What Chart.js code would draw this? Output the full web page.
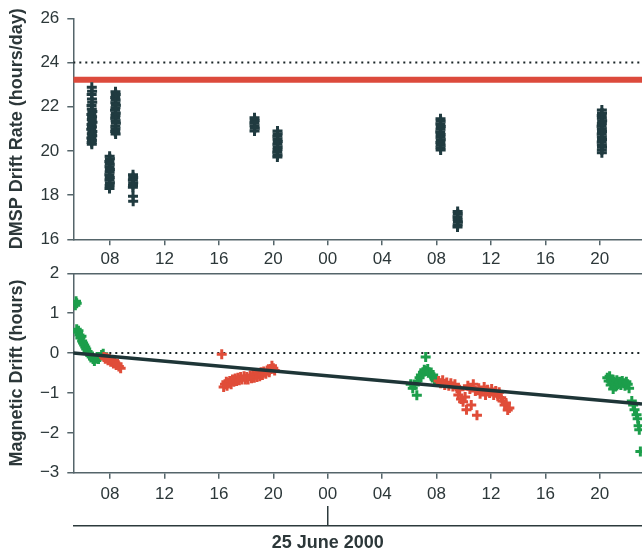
<!DOCTYPE html>
<html><head><meta charset="utf-8">
<script src="https://cdn.jsdelivr.net/npm/chart.js@4/dist/chart.umd.min.js"></script>
<style>
html,body{margin:0;padding:0;background:#fff;}
#wrap{position:relative;width:642px;height:552px;overflow:hidden;}
#wrap canvas{position:absolute;left:0;top:0;}
</style></head><body>
<div id="wrap"><canvas id="topChart" width="642" height="552"></canvas><canvas id="botChart" width="642" height="552"></canvas></div>
<script>
// ---- data (hours since 24 June 2000 00:00) ----
const timeRange = [5.3, 47.1];
const hourTicks = [8, 12, 16, 20, 24, 28, 32, 36, 40, 44];
const rateTicks = [16, 18, 20, 22, 24, 26];
const driftTicks = [-3, -2, -1, 0, 1, 2];
const solarDayRate = 24;
const siderealRate = 23.22;
const driftZero = 0;
const dateTickHour = 24;
const dateLabel = '25 June 2000';
const rateTitle = 'DMSP Drift Rate (hours/day)';
const driftTitle = 'Magnetic Drift (hours)';

const dmspDriftRate = [
  [6.66,22.88],[6.68,22.7],[6.65,22.55],[6.67,22.35],[6.69,22.2],[6.64,22.05],[6.66,21.9],[6.7,21.78],[6.63,21.65],[6.68,21.55],[6.66,21.42],[6.71,21.3],[6.64,21.2],[6.67,21.08],[6.62,20.98],[6.7,20.88],[6.66,20.78],[6.69,20.68],[6.63,20.58],[6.67,20.48],[6.65,20.38],[6.66,20.3],
  [8.4,22.68],[8.42,22.55],[8.38,22.42],[8.41,22.3],[8.39,22.18],[8.43,22.06],[8.4,21.95],[8.37,21.84],[8.42,21.72],[8.4,21.6],[8.38,21.48],[8.41,21.36],[8.43,21.25],[8.39,21.12],[8.4,21.0],[8.38,20.88],[8.41,20.76],
  [7.97,19.76],[7.99,19.64],[7.95,19.52],[7.98,19.4],[7.96,19.28],[7.99,19.16],[7.97,19.04],[7.95,18.92],[7.98,18.8],[7.96,18.68],[7.99,18.56],[7.97,18.44],[7.96,18.3],
  [9.69,18.92],[9.7,18.8],[9.68,18.68],[9.7,18.56],[9.69,18.44],[9.68,18.36],[9.69,17.95],[9.7,17.72],
  [18.62,21.5],[18.63,21.38],[18.61,21.26],[18.62,21.14],[18.64,21.02],[18.62,20.9],
  [20.31,20.9],[20.32,20.78],[20.3,20.66],[20.31,20.54],[20.33,20.42],[20.3,20.3],[20.32,20.18],[20.31,20.06],[20.29,19.94],[20.31,19.82],[20.3,19.72],
  [32.29,21.46],[32.3,21.34],[32.28,21.22],[32.31,21.1],[32.29,20.98],[32.27,20.86],[32.3,20.74],[32.29,20.62],[32.31,20.5],[32.28,20.38],[32.3,20.26],[32.29,20.14],[32.3,20.04],
  [33.55,17.26],[33.56,17.14],[33.54,17.02],[33.55,16.9],[33.57,16.78],[33.55,16.66],[33.54,16.56],
  [44.15,21.85],[44.16,21.72],[44.14,21.6],[44.15,21.48],[44.17,21.36],[44.15,21.24],[44.13,21.12],[44.15,21.0],[44.16,20.88],[44.14,20.76],[44.15,20.64],[44.16,20.52],[44.14,20.4],[44.15,20.28],[44.16,20.16],[44.15,20.04],[44.15,19.92]
];

const greenDrift = [
  [5.45,1.2],[5.5,1.3],[5.55,1.25],[5.55,0.6],[5.62,0.52],[5.68,0.56],[5.75,0.45],[5.82,0.38],[5.9,0.42],[5.95,0.3],[6.02,0.25],[6.1,0.2],[6.18,0.15],[6.25,0.1],[6.35,0.04],[6.45,0.0],[6.55,-0.06],[6.65,-0.1],[6.75,-0.15],[6.85,-0.2],[6.95,-0.14],[7.05,-0.1],[7.15,-0.15],[7.25,-0.1],[7.38,-0.05],[7.5,-0.02],
  [30.1,-0.78],[30.25,-0.88],[30.4,-0.8],[30.55,-1.06],[30.6,-0.7],[30.75,-0.62],[30.85,-0.55],[31.0,-0.48],[31.1,-0.42],[31.2,-0.1],[31.2,-0.45],[31.35,-0.4],[31.45,-0.48],[31.55,-0.52],[31.65,-0.58],[31.75,-0.55],[31.85,-0.65],[31.95,-0.7],
  [44.55,-0.62],[44.65,-0.7],[44.72,-0.58],[44.8,-0.8],[44.9,-0.66],[44.98,-0.9],[45.05,-0.72],[45.15,-0.84],[45.25,-0.68],[45.35,-0.78],[45.45,-0.72],[45.55,-0.8],[45.65,-0.7],[45.75,-0.76],[45.85,-0.82],[45.95,-0.72],[46.05,-0.78],[46.15,-0.88],[46.35,-1.2],[46.45,-1.3],[46.55,-1.42],[46.7,-1.55],[46.78,-1.65],[46.85,-1.82],[46.9,-1.92],[46.98,-2.47]
];

const redDrift = [
  [7.55,-0.1],[7.65,-0.14],[7.75,-0.12],[7.85,-0.18],[7.95,-0.15],[8.05,-0.22],[8.15,-0.18],[8.25,-0.26],[8.35,-0.22],[8.45,-0.3],[8.55,-0.27],[8.65,-0.34],[8.78,-0.38],
  [16.21,-0.03],
  [16.35,-0.85],[16.45,-0.78],[16.55,-0.72],[16.6,-0.82],[16.7,-0.76],[16.8,-0.7],[16.9,-0.78],[17.0,-0.66],[17.1,-0.72],[17.2,-0.64],[17.3,-0.7],[17.4,-0.62],[17.5,-0.68],[17.6,-0.6],[17.7,-0.66],[17.85,-0.58],[17.95,-0.66],[18.05,-0.6],[18.15,-0.66],[18.3,-0.56],[18.4,-0.63],[18.5,-0.55],[18.6,-0.62],[18.7,-0.52],[18.8,-0.6],[18.9,-0.5],[19.0,-0.58],[19.1,-0.48],[19.2,-0.55],[19.3,-0.46],[19.45,-0.52],[19.55,-0.44],[19.7,-0.48],[19.8,-0.4],[19.9,-0.32],[20.0,-0.38],[20.1,-0.44],
  [32.15,-0.7],[32.3,-0.76],[32.45,-0.68],[32.6,-0.8],[32.75,-0.74],[32.9,-0.82],[33.05,-0.76],[33.2,-0.84],[33.35,-0.78],[33.5,-0.88],[33.6,-1.05],[33.7,-0.92],[33.8,-1.15],[33.95,-1.22],[34.1,-1.1],[34.2,-1.42],[34.3,-0.82],[34.45,-0.9],[34.55,-1.3],[34.7,-0.78],[34.85,-0.95],[34.97,-1.56],[35.1,-0.88],[35.2,-1.02],[35.35,-0.95],[35.5,-0.85],[35.6,-1.05],[35.75,-0.92],[35.9,-1.0],[36.05,-0.9],[36.2,-1.05],[36.35,-0.95],[36.5,-1.08],[36.6,-0.98],[36.75,-1.12],[36.85,-1.2],[37.0,-1.3],[37.1,-1.25],[37.23,-1.43],[37.35,-1.38]
];

const driftTrend = [[5.3, 0.0], [47.1, -1.28]];

// ---- styling ----
const FONT = "'Liberation Sans', Arial, Helvetica, sans-serif";
const AXIS = '#55656a';
const TXT = '#2c3739';
const DARK = '#203b40';
const RED_LINE = '#dc4a3c';
const RED = '#e04d39';
const GREEN = '#1c9e4b';
const DOT = '#1b2628';

const toXY = arr => arr.map(p => ({x: p[0], y: p[1]}));
const hLine = v => [{x: timeRange[0], y: v}, {x: timeRange[1], y: v}];
const fmtHour = v => String(((v % 24) + 24) % 24).padStart(2, '0');
const fmtNum = v => String(v).replace('-', '\u2212');
const setTicks = list => (s => { s.ticks = list.map(v => ({value: v})); });
const tickFont = {family: FONT, size: 17};
const titleFont = {family: FONT, size: 18, weight: 'bold'};
const plus = (data, color, order) => ({data: toXY(data), pointStyle: 'cross', pointRadius: 5, pointHoverRadius: 5,
  pointBorderWidth: 3, borderColor: color, backgroundColor: color, showLine: false, order: order});
const lineDs = (data, color, width, dash, order) => ({data, borderColor: color, borderWidth: width, borderDash: dash,
  borderCapStyle: 'butt', pointRadius: 0, showLine: true, order: order});

const xAxis = (height, padding) => ({
  type: 'linear', min: timeRange[0], max: timeRange[1],
  afterBuildTicks: setTicks(hourTicks),
  afterFit: s => { s.height = height; },
  ticks: {callback: v => fmtHour(v), font: tickFont, color: TXT, padding: padding, autoSkip: false, maxRotation: 0},
  grid: {drawOnChartArea: false, tickLength: 6, color: AXIS, lineWidth: 1.5},
  border: {color: AXIS, width: 1.5}
});
const yAxis = (min, max, list, title) => ({
  type: 'linear', min, max,
  afterBuildTicks: setTicks(list),
  afterFit: s => { s.width = 73.3; },
  ticks: {callback: v => fmtNum(v), font: tickFont, color: TXT, padding: 8},
  grid: {drawOnChartArea: false, tickLength: 6, color: AXIS, lineWidth: 1.5},
  border: {color: AXIS, width: 1.5},
  title: {display: true, text: title, font: titleFont, color: TXT, padding: {top: 6.5, bottom: 0}}
});
const common = {responsive: false, animation: false, events: [],
  plugins: {legend: {display: false}, tooltip: {enabled: false}}};

new Chart(document.getElementById('topChart'), {
  type: 'scatter',
  data: {datasets: [
    plus(dmspDriftRate, DARK, 1),
    lineDs(hLine(siderealRate), RED_LINE, 6, [], 2),
    lineDs(hLine(solarDayRate), DOT, 2, [2, 4], 3)
  ]},
  options: Object.assign({}, common, {
    layout: {autoPadding: false, padding: {top: 18.3, left: 0, right: 0, bottom: 552 - 239.3 - 30}},
    scales: {x: xAxis(30, 4), y: yAxis(16, 26, rateTicks, rateTitle)}
  })
});

new Chart(document.getElementById('botChart'), {
  type: 'scatter',
  data: {datasets: [
    lineDs(toXY(driftTrend), '#1e3537', 3.5, [], 0),
    plus(redDrift, RED, 1),
    plus(greenDrift, GREEN, 2),
    lineDs(hLine(driftZero), DOT, 2, [2, 4], 3)
  ]},
  options: Object.assign({}, common, {
    layout: {autoPadding: false, padding: {top: 273.3, left: 0, right: 0, bottom: 0}},
    scales: {
      xt: {type: 'linear', position: 'top', min: timeRange[0], max: timeRange[1],
        afterBuildTicks: s => { s.ticks = []; }, afterFit: s => { s.height = 0; },
        ticks: {display: false}, grid: {drawOnChartArea: false, drawTicks: false},
        border: {color: AXIS, width: 1.5}},
      x: Object.assign(xAxis(33.3, 5), {weight: 0}),
      xd: {type: 'linear', position: 'bottom', weight: 1, min: timeRange[0], max: timeRange[1],
        afterBuildTicks: setTicks([dateTickHour]), afterFit: s => { s.height = 20; },
        ticks: {display: false},
        grid: {drawOnChartArea: false, drawTicks: true, tickLength: 20, color: '#2c3a3c', lineWidth: 1.5},
        border: {display: false}},
      xd2: {type: 'linear', position: 'bottom', weight: 2, min: timeRange[0], max: timeRange[1],
        afterBuildTicks: setTicks([dateTickHour]), afterFit: s => { s.height = 26; },
        ticks: {callback: () => dateLabel, font: titleFont, color: TXT, padding: 6.5, autoSkip: false, maxRotation: 0},
        grid: {drawOnChartArea: false, drawTicks: false},
        border: {color: '#2c3a3c', width: 1.5}},
      y: yAxis(-3, 2, driftTicks, driftTitle)
    }
  })
});
</script>
</body></html>
